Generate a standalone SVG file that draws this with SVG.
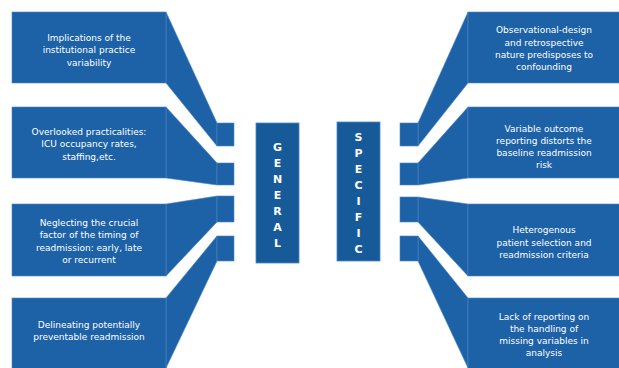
<svg xmlns="http://www.w3.org/2000/svg" width="619" height="368" viewBox="0 0 619 368">
<style>
.box{fill:#1d62a6;stroke:#4a86c2;stroke-width:0.6}
.conn{fill:#1d62a6;stroke:#4a86c2;stroke-width:0.6;stroke-linejoin:miter}
.hub{fill:#175a9a;stroke:#4a86c2;stroke-width:0.8}
.t{font-family:"DejaVu Sans",Verdana,sans-serif;font-size:9px;fill:#ffffff;text-anchor:middle}
.h{font-family:"DejaVu Sans",Verdana,sans-serif;font-size:11px;font-weight:bold;fill:#ffffff;text-anchor:middle}
</style>
<rect width="619" height="368" fill="#ffffff"/>
<g id="connectors">
<polygon class="conn" points="166,12 217,123 217,146 166,83"/>
<polygon class="conn" points="166,107 217,163 217,185 166,178"/>
<polygon class="conn" points="166,204 217,196 217,222 166,276"/>
<polygon class="conn" points="166,298 217,236 217,261 166,368"/>
<rect class="conn" x="217" y="123" width="17" height="23"/>
<rect class="conn" x="217" y="163" width="17" height="22"/>
<rect class="conn" x="217" y="196" width="17" height="26"/>
<rect class="conn" x="217" y="236" width="17" height="25"/>
<polygon class="conn" points="468,12 418,123 418,146 468,83"/>
<polygon class="conn" points="468,107 418,163 418,185 468,178"/>
<polygon class="conn" points="468,204 418,197 418,222 468,276"/>
<polygon class="conn" points="468,298 418,236 418,261 468,368"/>
<rect class="conn" x="400" y="123" width="18" height="23"/>
<rect class="conn" x="400" y="163" width="18" height="22"/>
<rect class="conn" x="400" y="197" width="18" height="25"/>
<rect class="conn" x="400" y="236" width="18" height="25"/>
</g>
<g id="general">
<rect class="hub" x="256" y="123" width="43" height="140"/>
<text class="h" x="277.5" y="151">G</text>
<text class="h" x="277.5" y="167">E</text>
<text class="h" x="277.5" y="183">N</text>
<text class="h" x="277.5" y="199">E</text>
<text class="h" x="277.5" y="215">R</text>
<text class="h" x="277.5" y="231">A</text>
<text class="h" x="277.5" y="247">L</text>
</g>
<g id="specific">
<rect class="hub" x="337" y="122" width="43" height="139"/>
<text class="h" x="358.5" y="141">S</text>
<text class="h" x="358.5" y="157">P</text>
<text class="h" x="358.5" y="173">E</text>
<text class="h" x="358.5" y="189">C</text>
<text class="h" x="358.5" y="205">I</text>
<text class="h" x="358.5" y="221">F</text>
<text class="h" x="358.5" y="237">I</text>
<text class="h" x="358.5" y="253">C</text>
</g>
<g id="g1">
<rect class="box" x="12" y="12" width="154" height="71"/>
<text class="t" x="89" y="41">Implications of the</text>
<text class="t" x="89" y="53.3">institutional practice</text>
<text class="t" x="89" y="65.6">variability</text>
</g>
<g id="g2">
<rect class="box" x="12" y="107" width="154" height="71"/>
<text class="t" x="89" y="135">Overlooked practicalities:</text>
<text class="t" x="89" y="147.3">ICU occupancy rates,</text>
<text class="t" x="89" y="159.6">staffing,etc.</text>
</g>
<g id="g3">
<rect class="box" x="12" y="204" width="154" height="72"/>
<text class="t" x="89" y="226">Neglecting the crucial</text>
<text class="t" x="89" y="238.3">factor of the timing of</text>
<text class="t" x="89" y="250.6">readmission: early, late</text>
<text class="t" x="89" y="262.8">or recurrent</text>
</g>
<g id="g4">
<rect class="box" x="12" y="298" width="154" height="72"/>
<text class="t" x="89" y="328.3">Delineating potentially</text>
<text class="t" x="89" y="340.3">preventable readmission</text>
</g>
<g id="s1">
<rect class="box" x="468" y="12" width="153" height="71"/>
<text class="t" x="544" y="33.3">Observational-design</text>
<text class="t" x="544" y="45.6">and retrospective</text>
<text class="t" x="544" y="57.6">nature predisposes to</text>
<text class="t" x="544" y="69.8">confounding</text>
</g>
<g id="s2">
<rect class="box" x="468" y="107" width="153" height="71"/>
<text class="t" x="544" y="131.6">Variable outcome</text>
<text class="t" x="544" y="144">reporting distorts the</text>
<text class="t" x="544" y="156.2">baseline readmission</text>
<text class="t" x="544" y="168.4">risk</text>
</g>
<g id="s3">
<rect class="box" x="468" y="204" width="153" height="72"/>
<text class="t" x="544" y="233.3">Heterogenous</text>
<text class="t" x="544" y="245.6">patient selection and</text>
<text class="t" x="544" y="257.8">readmission criteria</text>
</g>
<g id="s4">
<rect class="box" x="468" y="298" width="153" height="72"/>
<text class="t" x="544" y="320">Lack of reporting on</text>
<text class="t" x="544" y="332">the handling of</text>
<text class="t" x="544" y="344.2">missing variables in</text>
<text class="t" x="544" y="356.4">analysis</text>
</g>
</svg>
